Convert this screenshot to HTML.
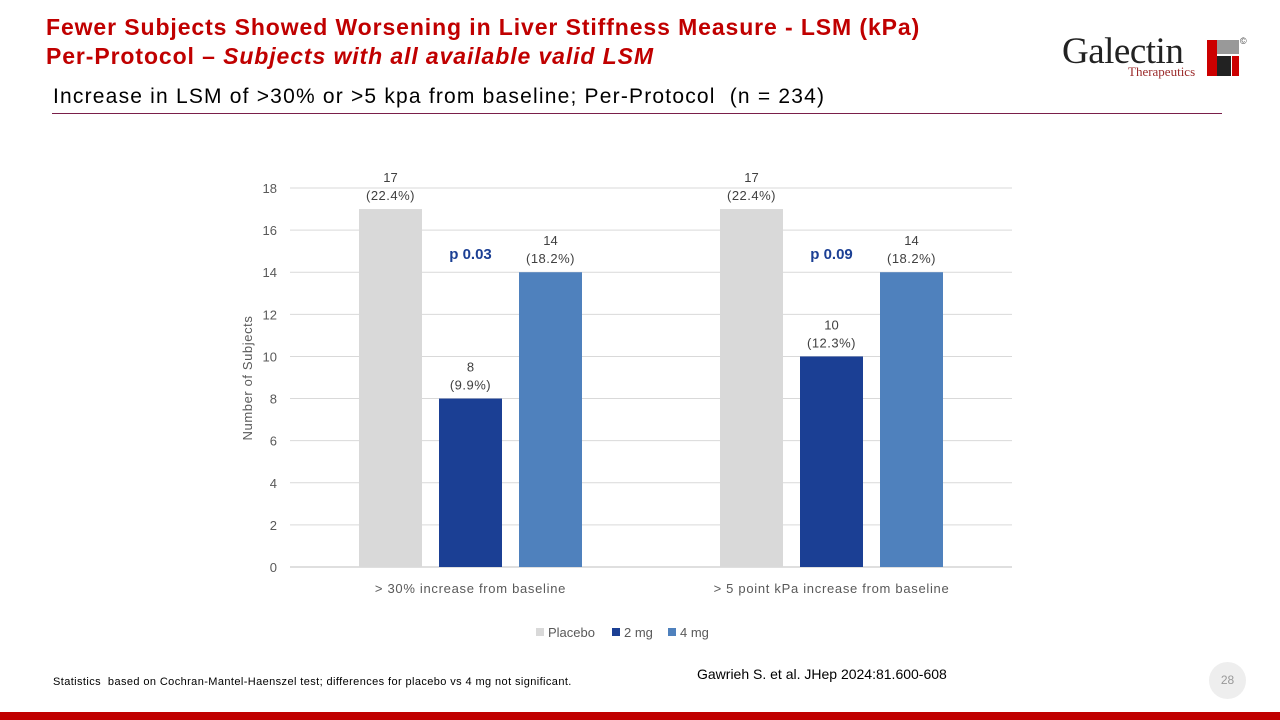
<!DOCTYPE html>
<html><head><meta charset="utf-8"><style>
body{margin:0;width:1280px;height:720px;background:#fff;position:relative;overflow:hidden;font-family:"Liberation Sans",sans-serif}
.t{position:absolute;white-space:nowrap}
</style></head><body>
<div class="t" style="left:46px;top:13px;font-size:23px;font-weight:bold;color:#c00000;line-height:29px;letter-spacing:0.9px">Fewer Subjects Showed Worsening in Liver Stiffness Measure - LSM (kPa)<br>Per-Protocol – <i>Subjects with all available valid LSM</i></div>
<div class="t" style="left:53px;top:85px;font-size:21px;color:#000;letter-spacing:1.2px">Increase in LSM of &gt;30% or &gt;5 kpa from baseline; Per-Protocol&nbsp; (n = 234)</div>
<div style="position:absolute;left:52px;top:113px;width:1170px;height:1px;background:#7a1f4a"></div>
<div style="position:absolute;left:1062px;top:30px;width:185px;height:52px">
<div class="t" style="left:0;top:0;font-family:'Liberation Serif',serif;font-size:37px;color:#222;letter-spacing:-0.5px">Galectin</div>
<div class="t" style="left:66px;top:34px;font-family:'Liberation Serif',serif;font-size:13px;color:#9b2a2a">Therapeutics</div>
<div style="position:absolute;left:145px;top:10px;width:32px;height:14px;background:#999"></div>
<div style="position:absolute;left:145px;top:10px;width:10px;height:36px;background:#c00"></div>
<div style="position:absolute;left:155px;top:26px;width:14px;height:20px;background:#222"></div>
<div style="position:absolute;left:170px;top:26px;width:7px;height:20px;background:#c00"></div>
<div class="t" style="left:178px;top:6px;font-size:9px;color:#444">©</div>
</div>
<svg width="1280" height="720" style="position:absolute;left:0;top:0" id="chart"></svg>
<div class="t" style="left:53px;top:676px;font-size:11px;color:#000;letter-spacing:0.4px">Statistics&nbsp; based on Cochran-Mantel-Haenszel test; differences for placebo vs 4 mg not significant.</div>
<div class="t" style="left:697px;top:666px;font-size:14px;color:#000">Gawrieh S. et al. JHep 2024:81.600-608</div>
<div style="position:absolute;left:1209px;top:662px;width:37px;height:37px;border-radius:50%;background:#eee;color:#999;font-size:12px;text-align:center;line-height:37px">28</div>
<div style="position:absolute;left:0;top:712px;width:1280px;height:8px;background:#c00000"></div>
<script>
const categories=["> 30% increase from baseline","> 5 point kPa increase from baseline"];
const seriesNames=["Placebo","2 mg","4 mg"];
const placebo=[17,17];
const mg2=[8,10];
const mg4=[14,14];
const pctPlacebo=["22.4%","22.4%"];
const pct2=["9.9%","12.3%"];
const pct4=["18.2%","18.2%"];
const pValues=["p 0.03","p 0.09"];
const yTicks=[0,2,4,6,8,10,12,14,16,18];
const colors=["#d9d9d9","#1b3f94","#4f81bd"];
const svg=document.getElementById('chart');const NS="http://www.w3.org/2000/svg";
const X0=290,X1=1012,Y0=567,Y1=188,YMAX=18;
const y=v=>Y0-(v/YMAX)*(Y0-Y1);
const bw=(X1-X0)/categories.length;
const xb=(c,s)=>X0+c*bw+bw/2+(s-1)*80-31.5;
function mk(t,a,txt){const e=document.createElementNS(NS,t);for(const k in a)e.setAttribute(k,a[k]);if(txt!==undefined)e.textContent=txt;svg.appendChild(e);return e;}
yTicks.forEach(v=>{
 const g=mk('line',{x1:X0,x2:X1,y1:y(v),y2:y(v),stroke:v===0?'#bfbfbf':'#d9d9d9'});
 
 
 const t=mk('text',{x:277,y:y(v)+5,'text-anchor':'end','font-size':13,fill:'#595959'},v);
 
 
});
const yt=mk('text',{x:0,y:0,transform:'translate(252,378) rotate(-90)','text-anchor':'middle','font-size':13,fill:'#595959','letter-spacing':0.6},'Number of Subjects');


const series=[placebo,mg2,mg4],pcts=[pctPlacebo,pct2,pct4];
categories.forEach((c,ci)=>{
 series.forEach((s,si)=>{
  const x=xb(ci,si);
  const r=mk('rect',{x:x,y:y(s[ci]),width:63,height:Y0-y(s[ci]),fill:colors[si]});
  
  
  const l1=mk('text',{x:x+31.5,y:y(s[ci])-27,'text-anchor':'middle','font-size':13,fill:'#404040'},s[ci]);
  
  
  const l2=mk('text',{x:x+31.5,y:y(s[ci])-9,'text-anchor':'middle','font-size':13,fill:'#404040','letter-spacing':0.5},'('+pcts[si][ci]+')');
  
  
 });
 const p=mk('text',{x:xb(ci,1)+31.5,y:259,'text-anchor':'middle','font-size':15,'font-weight':'bold',fill:'#1b3f94'},pValues[ci]);
 
 
 const cl=mk('text',{x:X0+ci*bw+bw/2,y:593,'text-anchor':'middle','font-size':13,fill:'#595959','letter-spacing':0.7},c);
 
 
});
const lx=[536,612,668];
seriesNames.forEach((n,i)=>{
 const r=mk('rect',{x:lx[i],y:628,width:8,height:8,fill:colors[i]});
 
 
 const t=mk('text',{x:lx[i]+12,y:637,'font-size':13,fill:'#595959'},n);
 
 
});
</script>
</body></html>
